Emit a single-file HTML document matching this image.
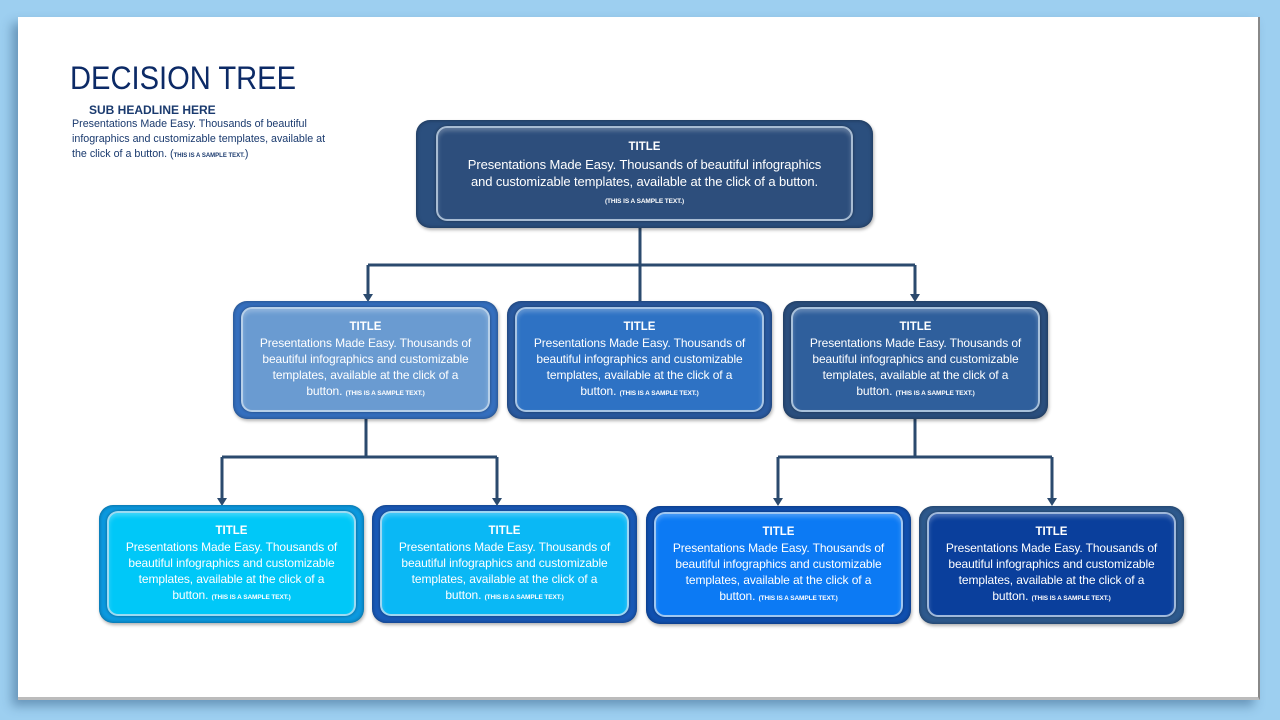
<!DOCTYPE html>
<html><head><meta charset="utf-8"><style>
html,body{margin:0;padding:0}
body{width:1280px;height:720px;background:#9dcff0;position:relative;overflow:hidden;font-family:"Liberation Sans",sans-serif}
.card{position:absolute;left:18px;top:17px;width:1242px;height:683px;background:#fff;border-right:2px solid #888;border-bottom:3px solid #bbb;box-shadow:-6px 6px 10px rgba(40,80,120,.45);box-sizing:border-box}
.h1{position:absolute;left:70px;top:60px;font-size:32px;color:#0c2a66;transform:scaleX(0.91);transform-origin:left top;white-space:nowrap}
.sub{position:absolute;left:89px;top:103px;font-size:12px;font-weight:bold;color:#1a3a6e}
.desc{position:absolute;left:72px;top:117px;width:300px;font-size:10.7px;line-height:15px;color:#1a3a6e;white-space:nowrap}
.sm{font-size:6px;font-weight:bold}
.box{position:absolute;border-radius:14px;box-shadow:inset 0 0 4px rgba(0,0,0,.4),1px 2px 3px rgba(0,0,0,.3)}
.inner{position:absolute;left:8px;top:6px;right:8px;bottom:7px;border-radius:11px;border:2px solid rgba(210,225,240,.75);box-shadow:inset 0 3px 4px rgba(255,255,255,.25),0 0 3px rgba(0,0,0,.4);color:#fff;text-align:center;font-size:12px;line-height:16px;display:flex;flex-direction:column;justify-content:center;box-sizing:border-box;padding:0;white-space:nowrap;letter-spacing:-0.1px}
.inner b{font-size:11.5px;letter-spacing:0}
.sm2{font-size:6.5px;font-weight:bold}
</style></head><body>
<div class="card"></div>
<div class="h1">DECISION TREE</div>
<div class="sub">SUB HEADLINE HERE</div>
<div class="desc">Presentations Made Easy. Thousands of beautiful<br>infographics and customizable templates, available at<br>the click of a button. (<span class="sm">THIS IS A SAMPLE TEXT.</span>)</div>

<svg style="position:absolute;left:0;top:0" width="1280" height="720">
<g stroke="#2b4a6e" stroke-width="3" fill="none">
<path d="M640 228V301M368 265H915M368 265V296M915 265V296"/>
<path d="M366 419V457M222 457H497M222 457V500M497 457V500"/>
<path d="M915 419V457M778 457H1052M778 457V500M1052 457V500"/>
</g>
<g fill="#2b4a6e">
<path d="M363 294h10l-5 8z"/><path d="M910 294h10l-5 8z"/>
<path d="M217 498h10l-5 8z"/><path d="M492 498h10l-5 8z"/>
<path d="M773 498h10l-5 8z"/><path d="M1047 498h10l-5 8z"/>
</g>
</svg>

<div class="box" style="left:416px;top:120px;width:457px;height:108px;background:#2b4f7e">
<div class="inner" style="left:20px;right:20px;background:#2d4e7c;font-size:13px;line-height:17px"><div><b>TITLE</b><br>Presentations Made Easy. Thousands of beautiful infographics<br>and customizable templates, available at the click of a button.<br><span class="sm2">(THIS IS A SAMPLE TEXT.)</span></div></div></div>

<div class="box" style="left:233px;top:301px;width:265px;height:118px;background:#3570c0">
<div class="inner" style="background:#6a9bd1"><div><b>TITLE</b><br>Presentations Made Easy. Thousands of<br>beautiful infographics and customizable<br>templates, available at the click of a<br>button. <span class="sm2">(THIS IS A SAMPLE TEXT.)</span></div></div></div>
<div class="box" style="left:507px;top:301px;width:265px;height:118px;background:#2a5aa0">
<div class="inner" style="background:#2e72c4"><div><b>TITLE</b><br>Presentations Made Easy. Thousands of<br>beautiful infographics and customizable<br>templates, available at the click of a<br>button. <span class="sm2">(THIS IS A SAMPLE TEXT.)</span></div></div></div>
<div class="box" style="left:783px;top:301px;width:265px;height:118px;background:#2b4f7e">
<div class="inner" style="background:#2f5f9c"><div><b>TITLE</b><br>Presentations Made Easy. Thousands of<br>beautiful infographics and customizable<br>templates, available at the click of a<br>button. <span class="sm2">(THIS IS A SAMPLE TEXT.)</span></div></div></div>

<div class="box" style="left:99px;top:505px;width:265px;height:118px;background:#0c9ae0">
<div class="inner" style="background:#00c8f8"><div><b>TITLE</b><br>Presentations Made Easy. Thousands of<br>beautiful infographics and customizable<br>templates, available at the click of a<br>button. <span class="sm2">(THIS IS A SAMPLE TEXT.)</span></div></div></div>
<div class="box" style="left:372px;top:505px;width:265px;height:118px;background:#1a5ab8">
<div class="inner" style="background:#0ab8f5"><div><b>TITLE</b><br>Presentations Made Easy. Thousands of<br>beautiful infographics and customizable<br>templates, available at the click of a<br>button. <span class="sm2">(THIS IS A SAMPLE TEXT.)</span></div></div></div>
<div class="box" style="left:646px;top:506px;width:265px;height:118px;background:#1050b0">
<div class="inner" style="background:#0c7af4"><div><b>TITLE</b><br>Presentations Made Easy. Thousands of<br>beautiful infographics and customizable<br>templates, available at the click of a<br>button. <span class="sm2">(THIS IS A SAMPLE TEXT.)</span></div></div></div>
<div class="box" style="left:919px;top:506px;width:265px;height:118px;background:#2e5a8e">
<div class="inner" style="background:#0a3f9c"><div><b>TITLE</b><br>Presentations Made Easy. Thousands of<br>beautiful infographics and customizable<br>templates, available at the click of a<br>button. <span class="sm2">(THIS IS A SAMPLE TEXT.)</span></div></div></div>
</body></html>
